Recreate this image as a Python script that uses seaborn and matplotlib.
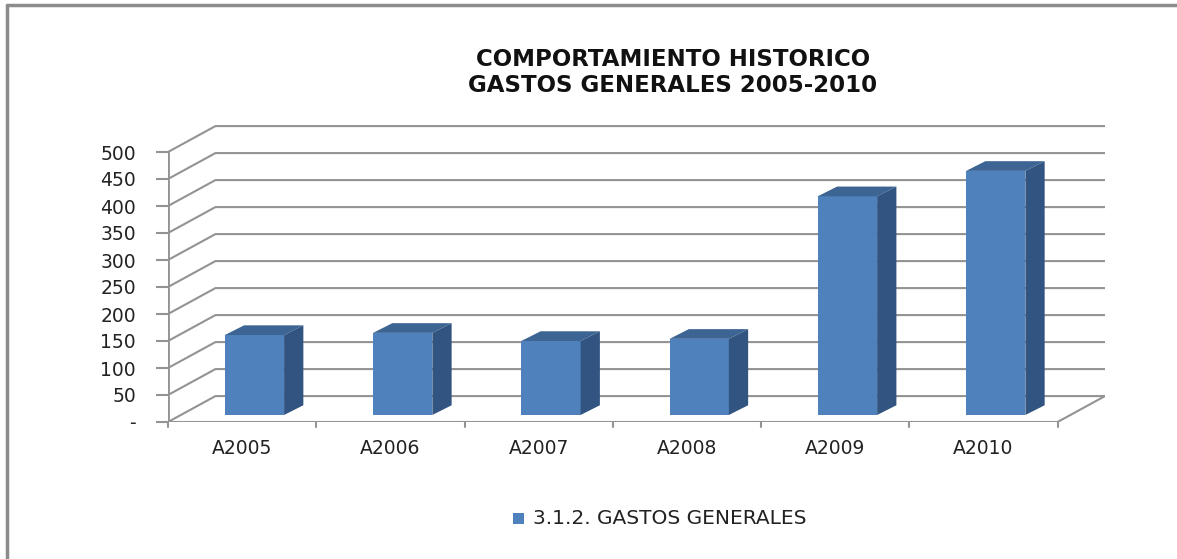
import numpy as np
import matplotlib
matplotlib.use("Agg")
import matplotlib.pyplot as plt
from matplotlib.patches import Polygon, Rectangle
from matplotlib.lines import Line2D
import seaborn as sns
import pandas as pd

# data
years = ["A2005", "A2006", "A2007", "A2008", "A2009", "A2010"]
gastos = [148, 152, 137, 141, 405, 452]
yticks = list(range(0, 501, 50))
ytick_labels = ["-"] + [str(v) for v in yticks[1:]]
series_name = "3.1.2. GASTOS GENERALES"

front_col = "#4F81BD"
side_col = "#325480"
top_col = "#3D6593"
grid_col = "#939393"

sns.set_theme(style="white")
plt.rcParams["font.family"] = ["DejaVu Sans"]

fig = plt.figure(figsize=(11.77, 5.59), dpi=100)
ax = fig.add_axes([168 / 1177, (559 - 422) / 559, (1105 - 168) / 1177, (422 - 125) / 559])

# 3d-ish offsets (data units): back wall and bar depth
DX, DY = 0.32, 48
bx, by = 0.083, 13      # where the bar front sits inside the floor
dxd, dyd = 0.13, 18     # bar depth

df = pd.DataFrame({"anio": years, "valor": gastos})

# back wall + side wall gridlines
for v in yticks:
    ax.plot([-0.5, -0.5 + DX, 5.5 + DX], [v, v + DY, v + DY],
            color=grid_col, lw=1.5, zorder=1, solid_capstyle="butt")
# floor front edge and right diagonal
ax.plot([-0.5, 5.5, 5.5 + DX], [0, 0, DY], color=grid_col, lw=1.5, zorder=1)
# left axis line
ax.plot([-0.5, -0.5], [0, 500], color=grid_col, lw=2, zorder=1)

sns.barplot(data=df, x="anio", y="valor", color=front_col, width=0.4,
            saturation=1, ax=ax, zorder=3, edgecolor="none")

for p in ax.patches:
    x0 = p.get_x() + bx
    h = p.get_height()
    w = p.get_width()
    p.set_x(x0)
    p.set_y(by)
    y1 = by + h
    top = Polygon([(x0, y1), (x0 + w, y1), (x0 + w + dxd, y1 + dyd), (x0 + dxd, y1 + dyd)],
                  closed=True, facecolor=top_col, edgecolor="none", zorder=3)
    side = Polygon([(x0 + w, by), (x0 + w + dxd, by + dyd), (x0 + w + dxd, y1 + dyd), (x0 + w, y1)],
                   closed=True, facecolor=side_col, edgecolor="none", zorder=3)
    ax.add_patch(top)
    ax.add_patch(side)

ax.set_xlim(-0.5, 5.5 + DX)
ax.set_ylim(0, 550)
ax.set_xlabel("")
ax.set_ylabel("")
for s in ax.spines.values():
    s.set_visible(False)

# y ticks at the front plane
ax.set_yticks(yticks)
ax.set_yticklabels(ytick_labels, fontsize=13.5, color="#222222")
ax.tick_params(axis="y", length=9, width=1.5, color=grid_col, pad=14, left=True)
# category boundaries as tick marks
ax.set_xticks(range(len(years)))
ax.set_xticklabels(years, fontsize=13.5, color="#222222")
ax.tick_params(axis="x", length=0, pad=12)
for b in np.arange(-0.5, 5.6, 1.0):
    ax.plot([b, b], [0, -10], color=grid_col, lw=1.5, clip_on=False, zorder=1)

fig.text(673 / 1177, 1 - 60 / 559, "COMPORTAMIENTO HISTORICO", ha="center", va="center",
         fontsize=16.5, fontweight="bold", color="#111111")
fig.text(673 / 1177, 1 - 86 / 559, "GASTOS GENERALES 2005-2010", ha="center", va="center",
         fontsize=16.5, fontweight="bold", color="#111111")

# legend
fig.patches.append(Rectangle((513 / 1177, 1 - 524 / 559), 11 / 1177, 11 / 559,
                             transform=fig.transFigure, facecolor=front_col, edgecolor="none"))
fig.text(533 / 1177, 1 - 519 / 559, series_name, ha="left", va="center",
         fontsize=14.5, color="#222222")

# outer frame (top and left edges visible)
fig.add_artist(Line2D([7 / 1177, 7 / 1177], [0, 1 - 4.5 / 559], transform=fig.transFigure,
                      color="#8C8C8C", lw=2.5))
fig.add_artist(Line2D([7 / 1177, 1], [1 - 4.5 / 559, 1 - 4.5 / 559], transform=fig.transFigure,
                      color="#8C8C8C", lw=2.5))

fig.savefig("out.png", dpi=100, facecolor="white")
